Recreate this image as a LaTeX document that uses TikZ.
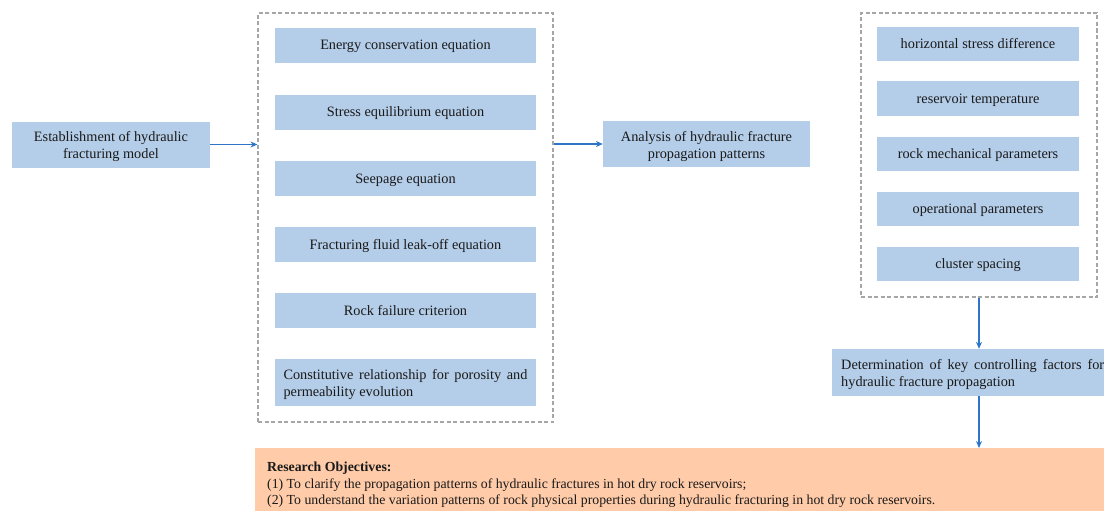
\documentclass[tikz,border=0pt]{standalone}
\usepackage{fontspec}
\setmainfont{Liberation Serif}
\usetikzlibrary{arrows.meta}
\definecolor{boxblue}{HTML}{B4CDE8}
\definecolor{boxorange}{HTML}{FFCBA8}
\definecolor{arrblue}{HTML}{2E75C9}
\definecolor{dashgray}{HTML}{A6A6A6}
\definecolor{txt}{HTML}{1A1A1A}
\hyphenpenalty=10000
\exhyphenpenalty=10000
\begin{document}
\begin{tikzpicture}[x=1pt,y=-1pt,
  bbox/.style={fill=boxblue,draw=none,inner sep=0pt,text=txt,font=\fontsize{14.3}{17}\selectfont,align=center,text height=12pt,text depth=3pt},
  bfill/.style={fill=boxblue,draw=none,inner sep=0pt},
  btext/.style={inner sep=0pt,text=txt,font=\fontsize{14.3}{17}\selectfont,yshift=-2.5pt},
  dashbox/.style={draw=dashgray,dashed,line width=1.2pt,dash pattern=on 4pt off 2.5pt,inner sep=0pt},
  arr/.style={draw=arrblue,line width=1.3pt,-{Stealth[length=7pt,width=6pt]}}]
\useasboundingbox (0,0) rectangle (1104,511);
\clip (0,0) rectangle (1104,511);
% left
\node[bfill,minimum width=198pt,minimum height=46pt] (est) at (111,144.5) {};
\node[btext,align=center] (estt) at (est.center) {Establishment of hydraulic\\fracturing model};
% middle dashed
\node[dashbox,minimum width=295pt,minimum height=409pt] (mid) at (405.5,217.5) {};
\node[bbox,minimum width=261pt,minimum height=35pt] (e1) at (405.5,45.5) {Energy conservation equation};
\node[bbox,minimum width=261pt,minimum height=35pt] (e2) at (405.5,112.5) {Stress equilibrium equation};
\node[bbox,minimum width=261pt,minimum height=35pt] (e3) at (405.5,178.5) {Seepage equation};
\node[bbox,minimum width=261pt,minimum height=35pt] (e4) at (405.5,244.5) {Fracturing fluid leak-off equation};
\node[bbox,minimum width=261pt,minimum height=35pt] (e5) at (405.5,310.5) {Rock failure criterion};
\node[bfill,minimum width=261pt,minimum height=47pt] (e6) at (405.5,382.5) {};
\node[btext,text width=244pt,align=justify] (e6t) at (e6.center) {Constitutive relationship for porosity and permeability evolution};
% analysis
\node[bfill,minimum width=207pt,minimum height=46pt] (ana) at (706.5,144) {};
\node[btext,align=center] (anat) at (ana.center) {Analysis of hydraulic fracture\\propagation patterns};
% right dashed
\node[dashbox,minimum width=236pt,minimum height=284pt] (rgt) at (979,155) {};
\node[bbox,minimum width=202pt,minimum height=34pt] (f1) at (978,44) {horizontal stress difference};
\node[bbox,minimum width=202pt,minimum height=34pt] (f2) at (978,98.5) {reservoir temperature};
\node[bbox,minimum width=202pt,minimum height=34pt] (f3) at (978,154) {rock mechanical parameters};
\node[bbox,minimum width=202pt,minimum height=34pt] (f4) at (978,209) {operational parameters};
\node[bbox,minimum width=202pt,minimum height=34pt] (f5) at (978,264) {cluster spacing};
% determination
\node[bfill,anchor=west,minimum width=283pt,minimum height=47pt] (det) at (832,372.5) {};
\node[btext,anchor=west,text width=263pt,align=justify] (dett) at ([xshift=9pt]det.west) {Determination of key controlling factors for hydraulic fracture propagation};
% research
\node[fill=boxorange,anchor=north west,minimum width=860pt,minimum height=67pt,inner sep=0pt] (res) at (255,448) {};
\node[anchor=north west,inner sep=0pt,text=txt,font=\fontsize{13.8}{16.8}\selectfont,align=left] (rtxt) at (267,461.5)
  {\textbf{Research Objectives:}\\
   (1) To clarify the propagation patterns of hydraulic fractures in hot dry rock reservoirs;\\
   (2) To understand the variation patterns of rock physical properties during hydraulic fracturing in hot dry rock reservoirs.};
% arrows
\draw[arr] (est.east) -- (est.east -| mid.west);
\draw[arr] (ana.west -| mid.east) -- (ana.west);
\draw[arr] (rgt.south) -- (rgt.south |- det.north);
\draw[arr] (rgt.south |- det.south) -- (rgt.south |- res.north);
\end{tikzpicture}
\end{document}
